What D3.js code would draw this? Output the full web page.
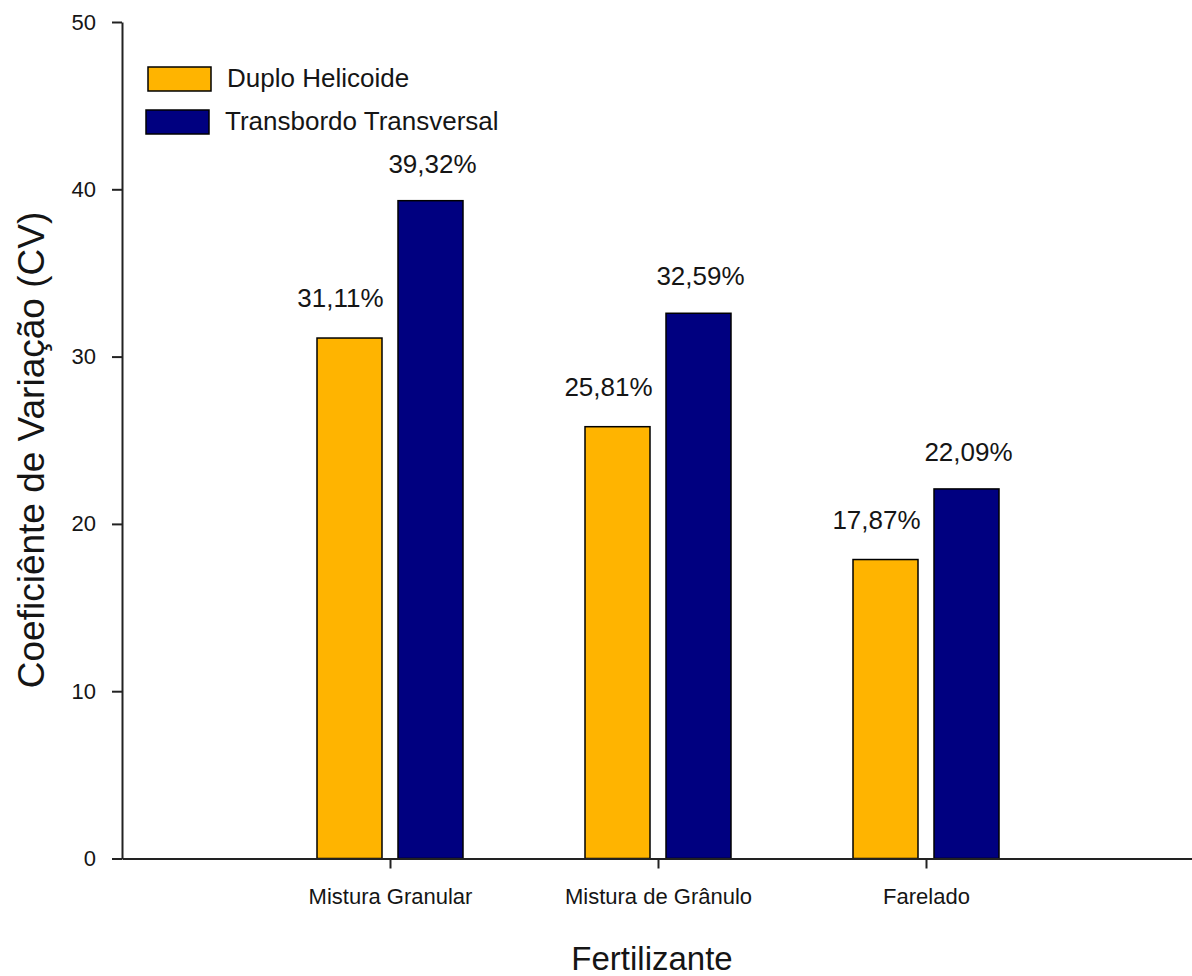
<!DOCTYPE html>
<html>
<head>
<meta charset="utf-8">
<script src="https://cdn.jsdelivr.net/npm/d3@7"></script>
<style>
  html, body { margin: 0; padding: 0; background: #fff; }
  svg { display: block; font-family: "Liberation Sans", Arial, sans-serif; }
</style>
</head>
<body>
<svg id="chart" width="1192" height="976"></svg>
<script>
// Coefficient of variation (%) per fertilizer type and metering mechanism
const categories = ["Mistura Granular", "Mistura de Grânulo", "Farelado"];
const seriesNames = ["Duplo Helicoide", "Transbordo Transversal"];
const duploHelicoide = [31.11, 25.81, 17.87];
const transbordoTransversal = [39.32, 32.59, 22.09];
const yTicks = [0, 10, 20, 30, 40, 50];
const colors = ["#FFB400", "#000080"];

const svg = d3.select("#chart");
const ink = "#151515";

const x = d3.scalePoint().domain(categories).range([122, 1194]).padding(1);
const y = d3.scaleLinear().domain([0, 50]).range([858.5, 22]);

const series = [duploHelicoide, transbordoTransversal];
const barOffset = [-73, 8];   // left edge of each bar relative to the category tick
const barWidth = 65;
const labelDx = [-9, 2];
const labelDy = [-31, -28];

// bars and value labels
series.forEach((vals, s) => {
  svg.append("g").selectAll("rect")
    .data(vals)
    .join("rect")
    .attr("x", (d, i) => x(categories[i]) + barOffset[s])
    .attr("y", d => y(d))
    .attr("width", barWidth)
    .attr("height", d => y(0) - y(d))
    .attr("fill", colors[s])
    .attr("stroke", "#000")
    .attr("stroke-width", 1.5);

  svg.append("g").selectAll("text")
    .data(vals)
    .join("text")
    .attr("x", (d, i) => x(categories[i]) + barOffset[s] + barWidth / 2 + labelDx[s])
    .attr("y", d => y(d) + labelDy[s])
    .attr("text-anchor", "middle")
    .attr("font-size", 26)
    .attr("fill", ink)
    .text(d => d.toFixed(2).replace(".", ",") + "%");
});

// y axis
const yAxis = svg.append("g")
  .attr("transform", "translate(122,0)")
  .call(d3.axisLeft(y).tickValues(yTicks).tickSize(10).tickSizeOuter(0).tickPadding(16));
yAxis.selectAll("path, line").attr("stroke", "#222").attr("stroke-width", 2);
yAxis.selectAll("text").attr("font-size", 22).attr("fill", ink)
  .attr("font-family", "'Liberation Sans', Arial, sans-serif");

// x axis
const xAxis = svg.append("g")
  .attr("transform", "translate(0,858.5)")
  .call(d3.axisBottom(x).tickSize(10).tickSizeOuter(0).tickPadding(20));
xAxis.selectAll("path, line").attr("stroke", "#222").attr("stroke-width", 2);
xAxis.selectAll("text").attr("font-size", 22).attr("fill", ink)
  .attr("font-family", "'Liberation Sans', Arial, sans-serif");

// axis titles
svg.append("text")
  .attr("transform", "translate(44,450) rotate(-90)")
  .attr("text-anchor", "middle")
  .attr("font-size", 37)
  .attr("fill", ink)
  .text("Coeficiênte de Variação (CV)");

svg.append("text")
  .attr("x", 652)
  .attr("y", 970)
  .attr("text-anchor", "middle")
  .attr("font-size", 33)
  .attr("fill", ink)
  .text("Fertilizante");

// legend
const legend = svg.append("g");
seriesNames.forEach((name, i) => {
  legend.append("rect")
    .attr("x", 148 - 2 * i)
    .attr("y", 67 + 43 * i)
    .attr("width", 63)
    .attr("height", 24)
    .attr("fill", colors[i])
    .attr("stroke", "#000")
    .attr("stroke-width", 1.5);
  legend.append("text")
    .attr("x", 227 - 2 * i)
    .attr("y", 87 + 43 * i)
    .attr("font-size", 26)
    .attr("fill", ink)
    .text(name);
});
</script>
</body>
</html>
